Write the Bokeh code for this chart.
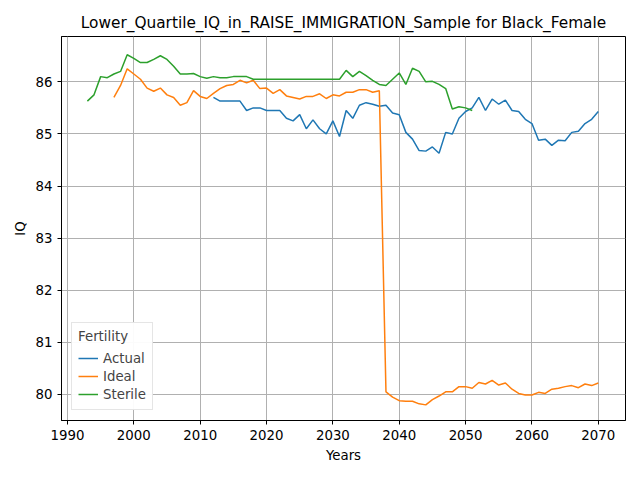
from bokeh.plotting import figure
from bokeh.models import Range1d, Legend, LegendItem, FixedTicker
from bokeh.embed import file_html
from bokeh.resources import INLINE

sterile_years = list(range(1993, 2052))
sterile = [85.63, 85.75, 86.1, 86.08, 86.15, 86.2, 86.52, 86.45, 86.37, 86.37,
           86.43, 86.5, 86.43, 86.3, 86.15, 86.15, 86.16, 86.1, 86.07, 86.1,
           86.08, 86.08, 86.1, 86.1, 86.1, 86.05, 86.05, 86.05, 86.05, 86.05,
           86.05, 86.05, 86.05, 86.05, 86.05, 86.05, 86.05, 86.05, 86.05, 86.22,
           86.1, 86.2, 86.12, 86.03, 85.95, 85.93, 86.05, 86.17, 85.95, 86.26,
           86.2, 86.0, 86.01, 85.95, 85.87, 85.48, 85.52, 85.5, 85.45]

ideal_years = list(range(1997, 2071))
ideal = [85.7, 85.93, 86.25, 86.15, 86.05, 85.88, 85.82, 85.88, 85.75, 85.7,
         85.55, 85.6, 85.83, 85.72, 85.68, 85.78, 85.87, 85.93, 85.95, 86.03,
         85.98, 86.03, 85.87, 85.88, 85.78, 85.85, 85.73, 85.7, 85.67, 85.72,
         85.72, 85.77, 85.68, 85.75, 85.73, 85.8, 85.8, 85.85, 85.85, 85.8,
         85.83, 80.05, 79.95, 79.88, 79.87, 79.87, 79.82, 79.8, 79.9, 79.97,
         80.05, 80.05, 80.15, 80.15, 80.12, 80.23, 80.2, 80.27, 80.18, 80.22,
         80.1, 80.02, 79.99, 79.99, 80.04, 80.02, 80.1, 80.12, 80.15, 80.17,
         80.13, 80.2, 80.17, 80.22]

actual_years = list(range(2012, 2071))
actual = [85.7, 85.63, 85.63, 85.63, 85.63, 85.45, 85.5, 85.5, 85.45, 85.45,
          85.45, 85.3, 85.25, 85.37, 85.1, 85.27, 85.1, 85.0, 85.25, 84.95,
          85.45, 85.3, 85.55, 85.6, 85.57, 85.53, 85.55, 85.4, 85.37, 85.03,
          84.9, 84.68, 84.67, 84.75, 84.63, 85.03, 85.0, 85.3, 85.43, 85.5,
          85.7, 85.45, 85.67, 85.57, 85.65, 85.45, 85.43, 85.28, 85.2, 84.88,
          84.9, 84.78, 84.88, 84.87, 85.03, 85.05, 85.2, 85.28, 85.43]

p = figure(width=632, height=472, output_backend="svg", toolbar_location=None,
           title="Lower_Quartile_IQ_in_RAISE_IMMIGRATION_Sample for Black_Female",
           x_range=Range1d(1989.1, 2074.1), y_range=Range1d(79.5, 86.87),
           x_axis_label="Years", y_axis_label="IQ",
           min_border_left=61, min_border_right=7, min_border_top=36, min_border_bottom=52)
p.title.text_font = "DejaVu Sans"
p.title.text_font_size = "11.5pt"
p.title.text_font_style = "normal"
p.title.text_color = "black"
p.title.align = "center"
for ax in (p.xaxis, p.yaxis):
    ax.axis_label_text_font = "DejaVu Sans"
    ax.axis_label_text_font_style = "normal"
    ax.axis_label_text_font_size = "10pt"
    ax.axis_label_text_color = "black"
    ax.major_label_text_font = "DejaVu Sans"
    ax.major_label_text_font_size = "10pt"
    ax.major_label_text_color = "black"
    ax.minor_tick_line_color = None
    ax.major_tick_in = 0
    ax.major_tick_out = 4
    ax.axis_line_color = "black"
    ax.major_tick_line_color = "black"
p.xaxis.ticker = FixedTicker(ticks=list(range(1990, 2071, 10)))
p.yaxis.ticker = FixedTicker(ticks=list(range(80, 87)))
p.grid.grid_line_color = "#b0b0b0"
p.grid.grid_line_width = 1
p.grid.grid_line_alpha = 1.0
p.outline_line_color = "black"

r1 = p.line(actual_years, actual, color="#1f77b4", line_width=1.5)
r2 = p.line(ideal_years, ideal, color="#ff7f0e", line_width=1.5)
r3 = p.line(sterile_years, sterile, color="#2ca02c", line_width=1.5)

legend = Legend(items=[LegendItem(label="Actual", renderers=[r1]),
                       LegendItem(label="Ideal", renderers=[r2]),
                       LegendItem(label="Sterile", renderers=[r3])],
                location="bottom_left", title="Fertility")
legend.title_text_font = "DejaVu Sans"
legend.title_text_font_size = "10pt"
legend.title_text_font_style = "normal"
legend.label_text_font = "DejaVu Sans"
legend.label_text_font_size = "10pt"
legend.border_line_color = "#cccccc"
legend.spacing = 0
legend.padding = 6
legend.glyph_height = 18
legend.label_height = 18
p.add_layout(legend)

open("out.html", "w").write(file_html(p, INLINE))
